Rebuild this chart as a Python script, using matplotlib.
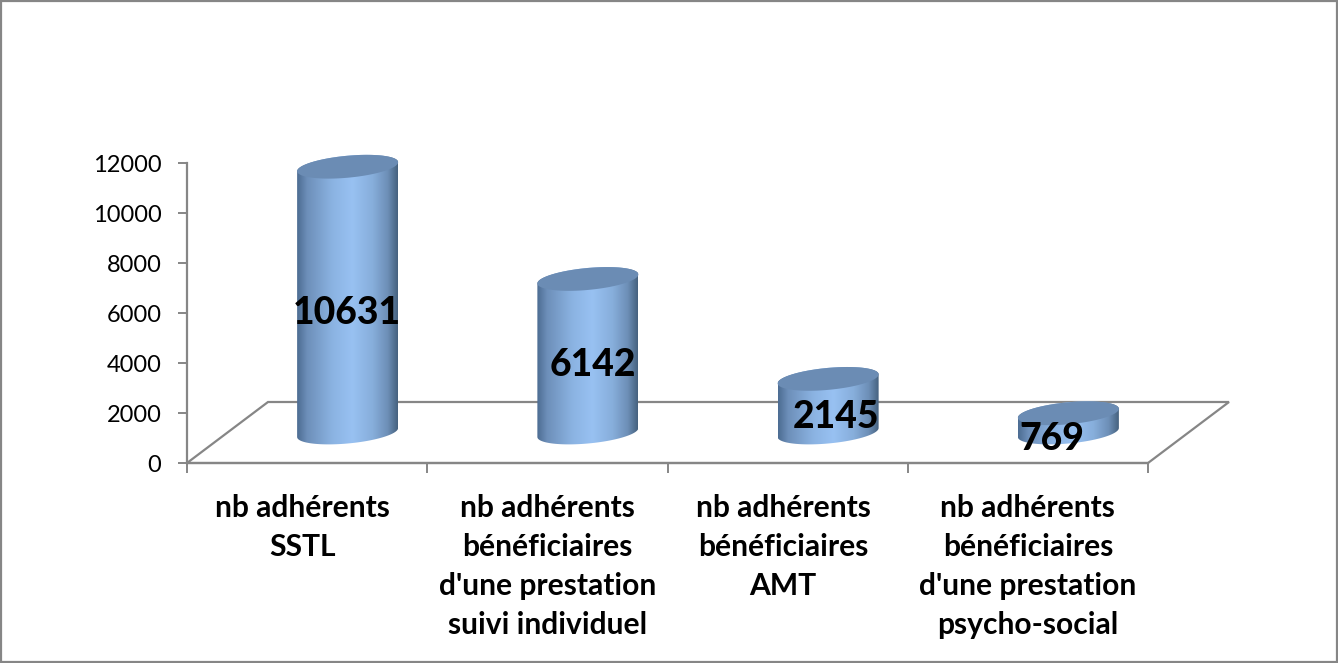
import numpy as np
import matplotlib
matplotlib.use("Agg")
import matplotlib.pyplot as plt
from matplotlib.colors import LinearSegmentedColormap
from matplotlib.patches import Polygon, PathPatch, Rectangle
from matplotlib.path import Path
from matplotlib.transforms import ScaledTranslation

categories = [
    "nb adhérents\nSSTL",
    "nb adhérents\nbénéficiaires\nd'une prestation\nsuivi individuel",
    "nb adhérents\nbénéficiaires\nAMT",
    "nb adhérents\nbénéficiaires\nd'une prestation\npsycho-social",
]
values = [10631, 6142, 2145, 769]
yticks = [0, 2000, 4000, 6000, 8000, 10000, 12000]

W, H = 1338, 663
GRAY = "#868686"
plt.rcParams["font.family"] = ["Lato", "DejaVu Sans"]

fig = plt.figure(figsize=(W / 100, H / 100), dpi=100, facecolor="white")
ax = fig.add_axes([187 / W, 1 - 463 / H, 961 / W, 300 / H])
ax.set_facecolor("none")

n = len(values)
xmin, xmax = -0.5, n - 0.5
ymax = 12000
depth_x, depth_y = 81 / 240.25, 61 / 0.025      # floor depth, in data units
radius = 50.5 / 240.25
minor_v = 11 / 0.025                            # ellipse half-height
shear = 4.5 / 0.025                             # ellipse tilt at the rim

# floor
floor = Polygon(
    [(xmin, 0), (xmin + depth_x, depth_y), (xmax + depth_x, depth_y), (xmax, 0)],
    closed=True, fill=False, edgecolor=GRAY, linewidth=1.6, clip_on=False, zorder=1,
)
ax.add_patch(floor)

cmap = LinearSegmentedColormap.from_list(
    "cyl",
    [(0.0, "#4c6c92"), (0.10, "#6d8fb9"), (0.35, "#8bb3e2"), (0.55, "#98c1f2"),
     (0.75, "#87aedb"), (0.90, "#6d8fb7"), (1.0, "#46627f")],
)
grad = np.linspace(0, 1, 256).reshape(1, -1)
t = np.linspace(0, 2 * np.pi, 145)


def rim(cx, cy, th):
    c, s = np.cos(th), np.sin(th)
    return cx + radius * c, cy + minor_v * s + shear * c


for i, v in enumerate(values):
    cx = i + depth_x / 2
    base = depth_y / 2
    top = base + v
    # body: front half of the base rim (left to right), then the top rim's rear half (right to left)
    th_low = np.linspace(np.pi, 2 * np.pi, 73)
    bx, by = rim(cx, base, th_low)
    tx, ty = rim(cx, top, th_low - np.pi)
    verts = np.column_stack([np.r_[bx, tx], np.r_[by, ty]])
    body = Path(np.vstack([verts, verts[0]]), closed=True)
    im = ax.imshow(grad, cmap=cmap, aspect="auto", zorder=3 + i * 0.01,
                   extent=(cx - radius, cx + radius, base - 1500, top + 1500),
                   interpolation="bilinear")
    patch = PathPatch(body, transform=ax.transData, facecolor="none", edgecolor="none")
    ax.add_patch(patch)
    im.set_clip_path(patch)
    im.set_clip_box(fig.bbox)
    ex, ey = rim(cx, top, t)
    ax.add_patch(Polygon(np.column_stack([ex, ey]), closed=True, facecolor="#6b8cb4",
                         edgecolor="none", clip_on=False, zorder=3.5 + i * 0.01))

# data labels: hand-placed in the reference, offsets in pixels from the column's base centre
label_off = [(-1, 122), (5, 70), (8, 18), (-17, -4)]
for i, v in enumerate(values):
    ax.annotate(str(v), xy=(i + depth_x / 2, depth_y / 2),
                xytext=(label_off[i][0] * 0.72, label_off[i][1] * 0.72),
                textcoords="offset points", ha="center", va="center_baseline",
                fontsize=26.8, fontweight=900, color="black", zorder=6,
                annotation_clip=False)

ax.set_xlim(xmin, xmax)
ax.set_ylim(0, ymax)
for s in ("top", "right"):
    ax.spines[s].set_visible(False)
for s in ("left", "bottom"):
    ax.spines[s].set_color(GRAY)
    ax.spines[s].set_linewidth(1.6)
    ax.spines[s].set_zorder(2)

ax.set_yticks(yticks)
ax.set_yticklabels([str(y) for y in yticks], fontsize=17)
ax.tick_params(axis="y", length=6.5, width=1.4, color=GRAY, pad=12, labelcolor="black")
ax.set_xticks(np.arange(xmin, xmax + 0.5, 1))
ax.set_xticklabels([])
ax.tick_params(axis="x", which="major", length=7, width=1.4, color=GRAY)
ax.set_xticks(np.arange(n), minor=True)
ax.set_xticklabels(categories, minor=True, fontsize=21.6, fontweight="bold",
                   linespacing=1.48, va="top", ha="center")
ax.tick_params(axis="x", which="minor", length=0, pad=22)
# first and third category labels sit a few pixels left in the reference
label_shift_px = [-4.5, 0, -4.5, 0]
for lab, dx in zip(ax.get_xticklabels(minor=True), label_shift_px):
    lab.set_transform(lab.get_transform() + ScaledTranslation(dx / 100, 0, fig.dpi_scale_trans))

fig.add_artist(Rectangle((0.5 / W, 1.5 / H), (W - 1.5) / W, (H - 2.5) / H,
                         transform=fig.transFigure, fill=False, edgecolor=GRAY, linewidth=1.6))

fig.savefig("out.png", dpi=100, facecolor="white")
